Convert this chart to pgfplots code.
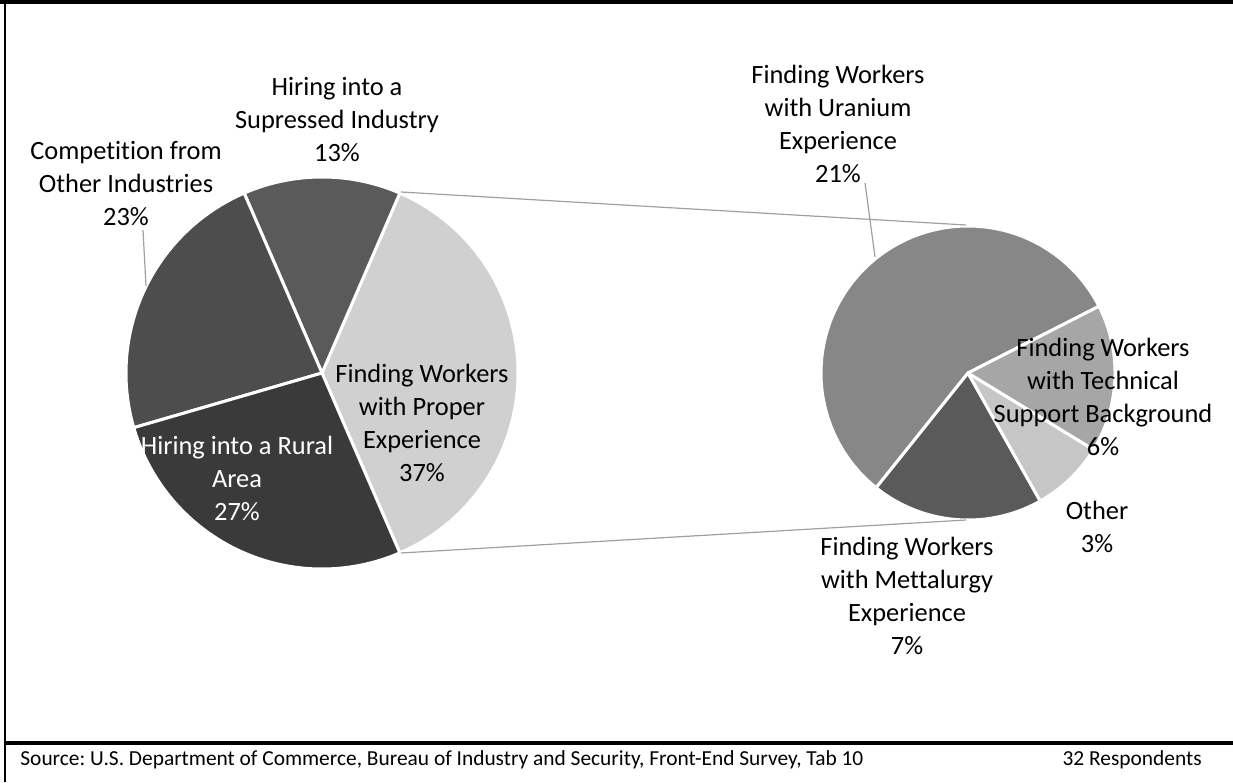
\documentclass[border=0pt]{standalone}
\usepackage{pgfplots}
\pgfplotsset{compat=1.18}
\usepackage{fontspec}
\setmainfont{Carlito}[Ligatures=NoCommon]
\frenchspacing
\definecolor{cComp}{HTML}{4D4D4D}
\definecolor{cSup}{HTML}{5A5A5A}
\definecolor{cRural}{HTML}{3A3A3A}
\definecolor{cProper}{HTML}{D0D0D0}
\definecolor{cUran}{HTML}{878787}
\definecolor{cTech}{HTML}{A6A6A6}
\definecolor{cOther}{HTML}{C6C6C6}
\definecolor{cMet}{HTML}{5A5A5A}
\definecolor{cLine}{HTML}{A0A0A0}
% slice: cx, cy, r, start angle, end angle, colour
\newcommand{\slice}[6]{%
  \addplot[fill=#6, draw=white, line width=1.5pt, line join=round,
           domain=#4:#5, samples=90, variable=\t]
    ({#1+#3*cos(\t)},{#2+#3*sin(\t)}) -- (axis cs:#1,#2) -- cycle;
}
% ---- data (percent of respondents) ----
\def\vProper{37}\def\vSup{13}\def\vComp{23}\def\vRural{27}
\def\vUran{21}\def\vTech{6}\def\vOther{3}\def\vMet{7}
% ---- main pie angles ----
\pgfmathsetmacro\aA{-1.8*\vProper}
\pgfmathsetmacro\aB{\aA+3.6*\vProper}
\pgfmathsetmacro\aC{\aB+3.6*\vSup}
\pgfmathsetmacro\aD{\aC+3.6*\vComp}
\pgfmathsetmacro\aE{\aD+3.6*\vRural}
% ---- secondary pie angles ----
\pgfmathsetmacro\tot{\vUran+\vTech+\vOther+\vMet}
\pgfmathsetmacro\bA{27}
\pgfmathsetmacro\bB{\bA+360*\vUran/\tot}
\pgfmathsetmacro\bC{\bB+360*\vMet/\tot}
\pgfmathsetmacro\bD{\bC+360*\vOther/\tot}
\pgfmathsetmacro\bE{\bD+360*\vTech/\tot}
\begin{document}
\begin{tikzpicture}
\begin{axis}[name=ax, at={(0,0)}, anchor=south west,
  width=616.5pt, height=391pt, scale only axis,
  xmin=0, xmax=1233, ymin=0, ymax=782,
  hide axis, clip=false]
  % main pie (centre 322,409  r 196)
  \slice{322}{409}{196}{\aA}{\aB}{cProper}
  \slice{322}{409}{196}{\aB}{\aC}{cSup}
  \slice{322}{409}{196}{\aC}{\aD}{cComp}
  \slice{322}{409}{196}{\aD}{\aE}{cRural}
  % secondary pie (centre 968,409  r 147)
  \slice{968}{409}{147}{\bA}{\bB}{cUran}
  \slice{968}{409}{147}{\bB}{\bC}{cMet}
  \slice{968}{409}{147}{\bC}{\bD}{cOther}
  \slice{968}{409}{147}{\bD}{\bE}{cTech}
  % connector lines
  \addplot[cLine, line width=0.6pt] coordinates {(401,590) (966,557)};
  \addplot[cLine, line width=0.6pt] coordinates {(401,229) (966,262)};
  % leader lines
  \addplot[cLine, line width=0.6pt] coordinates {(143,552) (146,496)};
  \addplot[cLine, line width=0.6pt] coordinates {(865,599) (875,525)};
  % labels
  \begin{scope}[every node/.style={align=center, inner sep=0pt,
      font=\fontsize{13.2}{16.5}\selectfont}]
  \node at (axis cs:337,662.5) {Hiring into a\\Supressed Industry\\13\%};
  \node at (axis cs:126,598.5) {Competition from\\Other Industries\\23\%};
  \node at (axis cs:422,359.5) {Finding Workers\\with Proper\\Experience\\37\%};
  \node[text=white] at (axis cs:237,303.5) {Hiring into a Rural\\Area\\27\%};
  \node at (axis cs:838,658) {Finding Workers\\with Uranium\\Experience\\21\%};
  \node at (axis cs:1103,385) {Finding Workers\\with Technical\\Support Background\\6\%};
  \node at (axis cs:1097,255.5) {Other\\3\%};
  \node at (axis cs:907,186) {Finding Workers\\with Mettalurgy\\Experience\\7\%};
  \end{scope}
  % frame
  \fill[black] (axis cs:0,778) rectangle (axis cs:1233,782);
  \draw[black, line width=1.3pt] (axis cs:5,0) -- (axis cs:5,782);
  \draw[black, line width=1.6pt] (axis cs:4,39) -- (axis cs:1233,39);
  % footer
  \node[anchor=west, inner sep=0pt, font=\fontsize{10.7}{12}\selectfont]
    at (axis cs:20,22) {Source: U.S. Department of Commerce, Bureau of Industry and Security, Front-End Survey, Tab 10};
  \node[anchor=east, inner sep=0pt, font=\fontsize{10.7}{12}\selectfont]
    at (axis cs:1202,22) {32 Respondents};
\end{axis}
\pgfresetboundingbox
\path[use as bounding box] (ax.south west) rectangle (ax.north east);
\end{tikzpicture}
\end{document}
